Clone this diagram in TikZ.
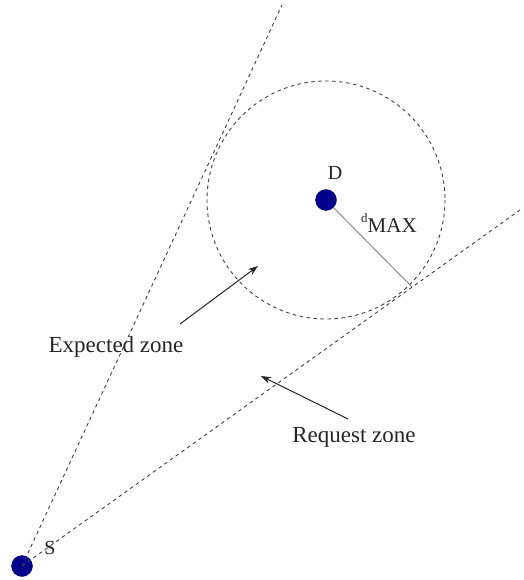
\documentclass[tikz,border=0pt]{standalone}
\usepackage{fontspec}
\setmainfont{Liberation Serif}
\usetikzlibrary{arrows.meta}
\begin{document}
\begin{tikzpicture}[x=1pt,y=-1pt,
  pt/.style={circle,fill=blue!55!black,draw=blue!40!black,minimum size=21pt,inner sep=0pt},
  zone/.style={dashed,dash pattern=on 3.5pt off 3.5pt,line width=0.9pt,black!75},
  lbl/.style={font=\fontsize{23}{26}\selectfont,inner sep=0pt,text=black!85},
  plbl/.style={font=\fontsize{20}{23}\selectfont,inner sep=0pt,text=black!85},
  pointer/.style={line width=1pt,black!85,-{Stealth[length=10pt,width=7pt]}}]
\useasboundingbox (0,0) rectangle (523,580);
\node[pt] (S) at (22,566) {};
\node[pt] (D) at (326,200) {};
\coordinate (T1) at (282,5);
\coordinate (T2) at (520,210);
\coordinate (tan) at (412,287);
\draw[zone] (S.center) -- (T1);
\draw[zone] (S.center) -- (T2);
\draw[zone] (D.center) circle[radius=119];
\draw[black!45,line width=1pt] (D) -- (tan);
\node[plbl] (Dl) at (335,173) {D};
\node[plbl] (Sl) at (50,548) {S};
\node[anchor=base west,inner sep=0pt,text=black!85] (dmax) at (361,222) {\fontsize{13}{15}\selectfont d\raisebox{-10pt}{\fontsize{21}{24}\selectfont MAX}};
\node[lbl] (ez) at (116,347) {Expected zone};
\node[lbl] (rz) at (354,437) {Request zone};
\coordinate (ea) at (180,324);
\coordinate (eb) at (258,266);
\coordinate (ra) at (348,419);
\coordinate (rb) at (261,376);
\draw[pointer] (ea) -- (eb);
\draw[pointer] (ra) -- (rb);
\end{tikzpicture}
\end{document}
